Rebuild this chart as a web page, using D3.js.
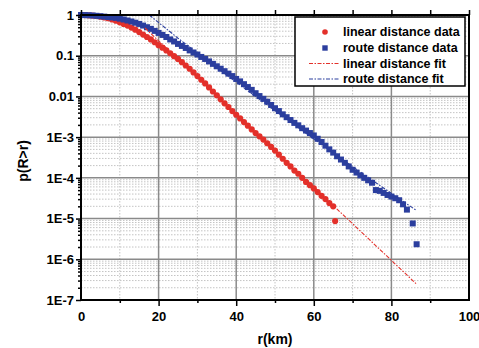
<!DOCTYPE html>
<html>
<head>
<meta charset="utf-8">
<script src="https://cdn.jsdelivr.net/npm/d3@7"></script>
<style>
  body { margin: 0; background: #fff; }
  text { font-family: "Liberation Sans", Arial, sans-serif; font-weight: bold; }
</style>
</head>
<body>
<svg id="chart" width="479" height="348"></svg>
<script>
// linear distance data (red circles)
var linearR = [0,1,2,3,4,5,6,7,8,9,10,11,12,13,14,15,16,17,18,19,20,21,22,23,24,25,26,27,28,29,30,
  31,32,33,34,35,36,37,38,39,40,41,42,43,44,45,46,47,48,49,50,51,52,53,54,55,56,57,58,59,60,
  61,62,63,64,65,65.5];
var linearP = [1,0.995,0.984,0.966,0.944,0.912,0.871,0.832,0.776,0.724,0.661,0.603,0.550,0.490,0.437,
  0.380,0.331,0.288,0.251,0.214,0.182,0.158,0.135,0.115,0.0977,0.0832,0.0692,0.0575,0.0479,0.0389,
  0.0316,0.0257,0.0209,0.0166,0.0132,0.0107,0.00851,0.00676,0.0055,0.00437,0.00355,0.00288,0.00234,
  0.00191,0.00155,0.00126,0.00105,8.71e-4,7.08e-4,5.75e-4,4.68e-4,3.72e-4,2.95e-4,2.34e-4,1.91e-4,
  1.51e-4,1.26e-4,1.0e-4,7.94e-5,6.61e-5,5.5e-5,4.47e-5,3.63e-5,3.02e-5,2.4e-5,2.0e-5,8.7e-6];

// route distance data (blue squares)
var routeR = [0,1,2,3,4,5,6,7,8,9,10,11,12,13,14,15,16,17,18,19,20,21,22,23,24,25,26,27,28,29,30,
  31,32,33,34,35,36,37,38,39,40,41,42,43,44,45,46,47,48,49,50,51,52,53,54,55,56,57,58,59,60,
  61,62,63,64,65,66,67,68,69,70,71,72,73,74,75,76,77,78,79,80,81,82,83,84,85.5,86.5];
var routeP = [1,0.995,0.986,0.973,0.955,0.933,0.912,0.891,0.871,0.851,0.813,0.776,0.733,0.692,0.646,
  0.603,0.550,0.501,0.457,0.407,0.363,0.324,0.288,0.251,0.224,0.195,0.174,0.155,0.135,0.120,
  0.107,0.0933,0.0832,0.0724,0.0631,0.0550,0.0479,0.0417,0.0363,0.0316,0.0269,0.0234,0.0200,
  0.0170,0.0145,0.0120,0.0102,0.00871,0.00741,0.00617,0.00513,0.00437,0.00363,0.00309,0.00263,
  0.00224,0.00195,0.00166,0.00145,0.00126,0.00110,9.12e-4,7.59e-4,6.17e-4,5.01e-4,4.17e-4,
  3.39e-4,2.82e-4,2.34e-4,1.91e-4,1.58e-4,1.35e-4,1.15e-4,1.0e-4,8.71e-5,7.59e-5,5.01e-5,
  4.79e-5,4.27e-5,3.8e-5,3.47e-5,3.16e-5,2.82e-5,2.24e-5,1.66e-5,7.59e-6,2.34e-6];

// fits
var linearFitR = [16.5, 86.5];
var linearFitP = [0.479, 2.45e-7];
var routeFitR = [17.6, 25, 33.5, 45, 55, 66.8, 76, 86.3];
var routeFitP = [1, 0.269, 0.0646, 0.01, 0.002, 3.09e-4, 7.59e-5, 1.62e-5];

var xTicks = [0, 20, 40, 60, 80, 100];
var yTicks = [1, 0.1, 0.01, 1e-3, 1e-4, 1e-5, 1e-6, 1e-7];
var yTickLabels = ["1", "0.1", "0.01", "1E-3", "1E-4", "1E-5", "1E-6", "1E-7"];
var legendLabels = ["linear distance data", "route distance data", "linear distance fit", "route distance fit"];

var red = "#e3302a", blue = "#2b3e9e";
var pLeft = 81, pRight = 469, pTop = 15, pBottom = 300;

var svg = d3.select("#chart");
var x = d3.scaleLinear().domain([0, 100]).range([pLeft, pRight]);
var y = d3.scaleLog().domain([1e-7, 1]).range([pBottom, pTop]);

var grid = svg.append("g");
// minor grid
var minorY = [];
for (var e = -7; e < 0; e++) {
  for (var k = 2; k <= 9; k++) minorY.push(k * Math.pow(10, e));
}
grid.selectAll(".my").data(minorY).enter().append("line")
    .attr("x1", pLeft).attr("x2", pRight)
    .attr("y1", d => y(d)).attr("y2", d => y(d))
    .attr("stroke", "#c4c4c4").attr("stroke-width", 1).attr("stroke-dasharray", "1.5,1.5");
grid.selectAll(".mx").data([10, 30, 50, 70, 90]).enter().append("line")
    .attr("x1", d => x(d)).attr("x2", d => x(d))
    .attr("y1", pTop).attr("y2", pBottom)
    .attr("stroke", "#c4c4c4").attr("stroke-width", 1).attr("stroke-dasharray", "1.5,1.5");
// major grid
grid.selectAll(".gy").data(yTicks.slice(1, 7)).enter().append("line")
    .attr("x1", pLeft).attr("x2", pRight)
    .attr("y1", d => y(d)).attr("y2", d => y(d))
    .attr("stroke", "#8a8a8a").attr("stroke-width", 1.5);
grid.selectAll(".gx").data([20, 40, 60, 80]).enter().append("line")
    .attr("x1", d => x(d)).attr("x2", d => x(d))
    .attr("y1", pTop).attr("y2", pBottom)
    .attr("stroke", "#8a8a8a").attr("stroke-width", 1.5);

// data
var linearData = linearR.map((r, i) => [r, linearP[i]]);
var routeData = routeR.map((r, i) => [r, routeP[i]]);

svg.append("g").selectAll("circle").data(linearData).enter().append("circle")
    .attr("cx", d => x(d[0])).attr("cy", d => y(d[1]))
    .attr("r", 3.1).attr("fill", red);

svg.append("g").selectAll("rect").data(routeData).enter().append("rect")
    .attr("x", d => x(d[0]) - 3).attr("y", d => y(d[1]) - 3)
    .attr("width", 6).attr("height", 6).attr("fill", blue);

var line = d3.line().x(d => x(d[0])).y(d => y(d[1]));
svg.append("path").datum(linearFitR.map((r, i) => [r, linearFitP[i]]))
    .attr("d", line).attr("fill", "none").attr("stroke", red)
    .attr("stroke-width", 1.1).attr("stroke-dasharray", "4,1.5,1.5,1.5");
svg.append("path").datum(routeFitR.map((r, i) => [r, routeFitP[i]]))
    .attr("d", line).attr("fill", "none").attr("stroke", blue)
    .attr("stroke-width", 1.1).attr("stroke-dasharray", "4,1.5,1.5,1.5");

// axes
var xAxis = d3.axisBottom(x).tickValues(xTicks).tickSize(6).tickFormat(d3.format("d"));
var gx = svg.append("g").attr("transform", "translate(0," + pBottom + ")").call(xAxis);
gx.selectAll("text").attr("font-size", "13px").attr("fill", "#000").attr("dy", "0.9em");
gx.selectAll(".tick").filter(d => d === 0 || d === 100).select("line").remove();
gx.select(".domain").remove();
svg.append("g").attr("transform", "translate(0," + pBottom + ")")
    .call(d3.axisBottom(x).tickValues([10, 30, 50, 70, 90]).tickSize(3).tickFormat(""))
    .select(".domain").remove();

var yAxis = d3.axisLeft(y).tickValues(yTicks).tickSize(5).tickFormat((d, i) => yTickLabels[i]);
var gy = svg.append("g").attr("transform", "translate(" + pLeft + ",0)").call(yAxis);
gy.selectAll("text").attr("font-size", "13px").attr("fill", "#000").attr("x", -7);
gy.select(".domain").remove();
svg.append("g").attr("transform", "translate(" + pLeft + ",0)")
    .call(d3.axisLeft(y).tickValues(minorY).tickSize(3).tickFormat(""))
    .select(".domain").remove();

svg.append("g").attr("transform", "translate(0," + pTop + ")")
    .call(d3.axisTop(x).tickValues([0, 10, 20, 30, 40, 50, 60, 70, 80, 90, 100]).tickSize(5).tickFormat(""))
    .select(".domain").remove();

svg.selectAll(".tick line").attr("stroke", "#000").attr("stroke-width", 1.5);

svg.append("rect")
    .attr("x", pLeft).attr("y", pTop)
    .attr("width", pRight - pLeft).attr("height", pBottom - pTop)
    .attr("fill", "none").attr("stroke", "#000").attr("stroke-width", 2);

// titles
svg.append("text").text("r(km)")
    .attr("x", 275).attr("y", 344).attr("text-anchor", "middle").attr("font-size", "14px");
svg.append("text").text("p(R>r)")
    .attr("transform", "translate(28,161) rotate(-90)")
    .attr("text-anchor", "middle").attr("font-size", "14px");

// legend
var lg = svg.append("g");
lg.append("rect").attr("x", 295).attr("y", 17).attr("width", 170).attr("height", 69)
    .attr("fill", "#fff").attr("stroke", "#000").attr("stroke-width", 1.5);
var rows = [32, 48, 63.5, 79];
lg.append("circle").attr("cx", 325).attr("cy", rows[0]).attr("r", 2.8).attr("fill", red);
lg.append("rect").attr("x", 322.3).attr("y", rows[1] - 2.7).attr("width", 5.4).attr("height", 5.4).attr("fill", blue);
lg.append("line").attr("x1", 309).attr("x2", 339).attr("y1", rows[2]).attr("y2", rows[2])
    .attr("stroke", red).attr("stroke-width", 1.2).attr("stroke-dasharray", "4,1.5,1.5,1.5");
lg.append("line").attr("x1", 309).attr("x2", 339).attr("y1", rows[3]).attr("y2", rows[3])
    .attr("stroke", blue).attr("stroke-width", 1.2).attr("stroke-dasharray", "4,1.5,1.5,1.5");
lg.selectAll(".lt").data(legendLabels).enter().append("text")
    .text(d => d)
    .attr("x", 343).attr("y", (d, i) => rows[i]).attr("dy", "0.35em")
    .attr("font-size", "12.5px");
</script>
</body>
</html>
